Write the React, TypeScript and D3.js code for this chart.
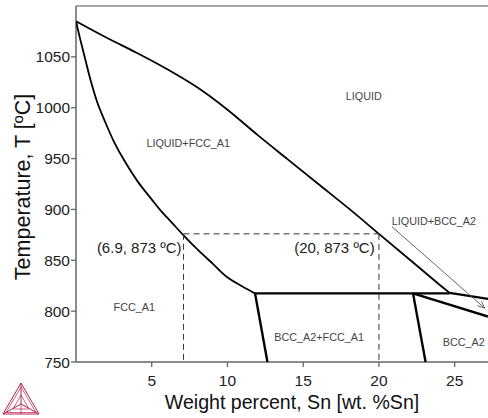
import React from "react";
import * as d3 from "d3";

const W = 488;
const H = 418;

const xTicks = [5, 10, 15, 20, 25];
const yTicks = [750, 800, 850, 900, 950, 1000, 1050];

// Liquidus (wt.% Sn, T °C)
const liquidusX = [0, 2, 4, 6, 8, 10, 12, 14, 16, 18, 20, 22, 24, 24.67];
const liquidusT = [1085, 1069, 1054, 1038, 1020, 998, 973, 949, 925, 901, 876, 851, 826, 818];
// Liquidus below the peritectic
const liquidus2X = [24.67, 27.2];
const liquidus2T = [818, 812];

// FCC solidus
const solidusX = [0, 0.26, 0.59, 0.99, 1.39, 1.92, 2.51, 3.24, 4.09, 5.02, 5.61, 6.34, 7.13, 8.05, 9.04, 9.97, 10.96, 11.82];
const solidusT = [1085, 1068.4, 1048.9, 1025.6, 1005.9, 986.2, 966.5, 946.8, 927.1, 909.4, 898.6, 886.8, 874.0, 860.2, 846.5, 833.5, 824.5, 817.5];

// Straight boundaries
const peritecticX = [11.82, 24.67];
const peritecticT = [817.5, 817.5];
const fccSolvusX = [11.82, 12.64];
const fccSolvusT = [817.5, 750];
const bccLeftX = [22.25, 23.08];
const bccLeftT = [817.5, 750];
const bccRightX = [22.25, 27.2];
const bccRightT = [817.5, 794.7];

// Dashed guide lines
const guideX = [7.1, 20];
const guideT = 876;

// Arrow
const arrowX = [20.86, 26.98];
const arrowT = [883, 803];

// Phase labels
const phaseLabels = ["LIQUID", "LIQUID+FCC_A1", "FCC_A1", "BCC_A2+FCC_A1", "BCC_A2", "LIQUID+BCC_A2"];
const phaseLabelX = [19.0, 7.41, 3.85, 16.05, 25.6, 23.63];
const phaseLabelT = [1012, 965, 804, 775, 770, 889];

// Point annotations
const annotations = ["(6.9, 873 ºC)", "(20, 873 ºC)"];
const annotationX = [6.97, 19.72];
const annotationT = [863, 863];

const FONT = "'Liberation Sans', Arial, sans-serif";

export default function App() {
  const x = d3.scaleLinear().domain([0, 27.2]).range([76, 488]);
  const y = d3.scaleLinear().domain([750, 1100]).range([362, 6]);

  const smooth = d3
    .line<[number, number]>()
    .x((d) => x(d[0]))
    .y((d) => y(d[1]))
    .curve(d3.curveCatmullRom.alpha(0.5));
  const straight = d3
    .line<[number, number]>()
    .x((d) => x(d[0]))
    .y((d) => y(d[1]));

  const zip = (a: number[], b: number[]) => a.map((v, i) => [v, b[i]] as [number, number]);

  const ax = x(arrowX[0]), ay = y(arrowT[0]), bx = x(arrowX[1]), by = y(arrowT[1]);
  const ang = Math.atan2(by - ay, bx - ax);
  const hl = 7, hw = 3;
  const head = [
    [bx - hl * Math.cos(ang) + hw * Math.sin(ang), by - hl * Math.sin(ang) - hw * Math.cos(ang)],
    [bx, by],
    [bx - hl * Math.cos(ang) - hw * Math.sin(ang), by - hl * Math.sin(ang) + hw * Math.cos(ang)],
  ];

  const axisColor = "#666";

  // Logo geometry
  const lA = [21, 383], lB = [3, 414], lC = [39, 414], lO = [21, 404];
  const logoColor = "#b3244f";

  return (
    <svg width={W} height={H} style={{ position: "absolute", left: 0, top: 0, background: "#fff" }} fontFamily={FONT}>
      <defs>
        <clipPath id="plot">
          <rect x={76} y={6} width={W - 76} height={362 - 6} />
        </clipPath>
      </defs>
      <rect width={W} height={H} fill="#fff" />

      {/* frame */}
      <line x1={76} x2={W} y1={6} y2={6} stroke="#888" strokeWidth={1.3} />
      <line x1={76} x2={76} y1={6} y2={362} stroke={axisColor} strokeWidth={1.5} />
      <line x1={76} x2={W} y1={362} y2={362} stroke={axisColor} strokeWidth={1.5} />

      {yTicks.map((t) => (
        <g key={"y" + t}>
          <line x1={71} x2={76} y1={y(t)} y2={y(t)} stroke={axisColor} strokeWidth={1.3} />
          <text x={70} y={y(t)} textAnchor="end" dominantBaseline="central" fontSize={15.5} fill="#222">
            {t}
          </text>
        </g>
      ))}
      {xTicks.map((t) => (
        <g key={"x" + t}>
          <line x1={x(t)} x2={x(t)} y1={362} y2={367} stroke={axisColor} strokeWidth={1.3} />
          <text x={x(t)} y={386} textAnchor="middle" fontSize={15.5} fill="#222">
            {t}
          </text>
        </g>
      ))}

      <text x={292} y={409} textAnchor="middle" fontSize={19.6} fill="#111">
        Weight percent, Sn [wt. %Sn]
      </text>
      <text transform={`translate(30,187) rotate(-90)`} textAnchor="middle" fontSize={21.5} fill="#111">
        Temperature, T [ºC]
      </text>

      <g clipPath="url(#plot)" fill="none" stroke="#000" strokeLinecap="butt">
        <path d={smooth(zip(liquidusX, liquidusT)) || ""} strokeWidth={1.8} />
        <path d={straight(zip(liquidus2X, liquidus2T)) || ""} strokeWidth={2.2} />
        <path d={smooth(zip(solidusX, solidusT)) || ""} strokeWidth={1.8} />
        <path d={straight(zip(peritecticX, peritecticT)) || ""} strokeWidth={2.4} />
        <path d={straight(zip(fccSolvusX, fccSolvusT)) || ""} strokeWidth={2.4} />
        <path d={straight(zip(bccLeftX, bccLeftT)) || ""} strokeWidth={2.4} />
        <path d={straight(zip(bccRightX, bccRightT)) || ""} strokeWidth={2.4} />

        <line x1={x(guideX[0])} x2={x(guideX[1])} y1={y(guideT)} y2={y(guideT)} stroke="#333" strokeWidth={1} strokeDasharray="6,4" />
        {guideX.map((g) => (
          <line key={"g" + g} x1={x(g)} x2={x(g)} y1={y(guideT)} y2={362} stroke="#333" strokeWidth={1} strokeDasharray="6,4" />
        ))}

        <line x1={ax} y1={ay} x2={bx} y2={by} stroke="#555" strokeWidth={0.9} />
        <polyline points={head.map((p) => p.join(",")).join(" ")} stroke="#555" strokeWidth={0.9} />
      </g>

      {phaseLabels.map((l, i) => (
        <text key={l} x={x(phaseLabelX[i])} y={y(phaseLabelT[i])} textAnchor="middle" dominantBaseline="central" fontSize={10.8} fill="#444">
          {l}
        </text>
      ))}
      {annotations.map((a, i) => (
        <text key={a} x={x(annotationX[i])} y={y(annotationT[i])} textAnchor="end" dominantBaseline="central" fontSize={15} fill="#222">
          {a}
        </text>
      ))}

      {/* logo */}
      <g stroke={logoColor} fill="none" strokeWidth={1}>
        <polygon points={[lA, lB, lC].map((p) => p.join(",")).join(" ")} />
        <polygon points={[[21, 387], [6, 412.5], [36, 412.5]].map((p) => p.join(",")).join(" ")} strokeWidth={0.7} />
        <line x1={lA[0]} y1={lA[1]} x2={lO[0]} y2={lO[1]} />
        <line x1={lB[0]} y1={lB[1]} x2={lO[0]} y2={lO[1]} />
        <line x1={lC[0]} y1={lC[1]} x2={lO[0]} y2={lO[1]} />
        <line x1={lO[0]} y1={lO[1]} x2={lO[0]} y2={414} strokeWidth={0.7} />
        <polygon points={[[21, 395], [13, 409], [29, 409]].map((p) => p.join(",")).join(" ")} strokeWidth={0.7} />
      </g>
    </svg>
  );
}
